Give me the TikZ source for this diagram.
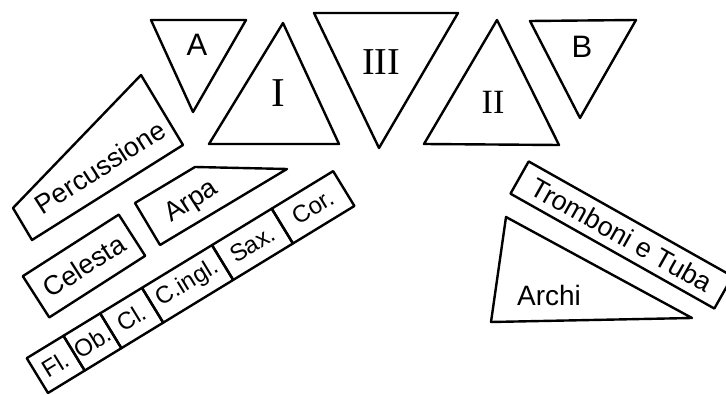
\documentclass[tikz,border=0pt]{standalone}
\usepackage{fontspec}
\setmainfont{Liberation Sans}
\newfontfamily\romanfont{Liberation Serif}
\usetikzlibrary{positioning}

\begin{document}
\begin{tikzpicture}[x=1pt, y=-1pt, line join=round,
    part/.style={draw, line width=2.4pt},
    box/.style={draw, line width=2.4pt, inner sep=0pt, outer sep=0pt},
    cell/.style={box, rotate=31.4, minimum height=40.8pt,
                 font=\fontsize{24}{28}\selectfont},
    txt/.style={inner sep=0pt, font=\fontsize{27}{32}\selectfont},
    num/.style={inner sep=0pt, font=\fontsize{38}{42}\romanfont}
]
  \useasboundingbox (0,0) rectangle (726,395);
  \clip (0,0) rectangle (726,395);

  % triangles on the stage
  \draw[part] (151,20) -- (246,20) -- (193,112) -- cycle;
  \node[txt, font=\fontsize{31}{34}\selectfont] (tA) at (197,45) {A};
  \draw[part] (283,23) -- (339,144) -- (209,144) -- cycle;
  \node[num, font=\fontsize{41}{44}\romanfont] (tI) at (278,93) {I};
  \draw[part] (314,13) -- (458,13) -- (379,148) -- cycle;
  \node[num] (tIII) at (381,62) {III};
  \draw[part] (497,20) -- (559,145) -- (424,144) -- cycle;
  \node[num, font=\fontsize{34}{38}\romanfont] (tII) at (493,102) {II};
  \draw[part] (530,21) -- (636,20) -- (580,118) -- cycle;
  \node[txt, font=\fontsize{31}{34}\selectfont] (tB) at (582,47) {B};

  % left side
  \draw[part] (13,208) -- (141,75) -- (183,145) -- (32,240) -- cycle;
  \node[txt, rotate=32.6] (perc) at (100,167) {Percussione};
  \draw[part] (135,203) -- (195,167) -- (287,169) -- (160,245) -- cycle;
  \node[txt, rotate=33] (arpa) at (192,202) {Arpa};
  \node[box, rotate=32.7, minimum width=114pt, minimum height=49pt,
        font=\fontsize{27}{32}\selectfont] (cel) at (84,266) {Celesta};

  % woodwinds
  \node[cell, minimum width=43pt, anchor=south west] (fl) at (48,393) {Fl.};
  \node[cell, minimum width=43pt, right=0pt of fl] (ob) {Ob.};
  \node[cell, minimum width=49pt, right=0pt of ob] (cl) {Cl.};
  \node[cell, minimum width=82pt, right=0pt of cl] (cingl) {C.ingl.};
  \node[cell, minimum width=70pt, right=0pt of cingl] (sax) {Sax.};
  \node[cell, minimum width=72pt, right=0pt of sax] (cor) {Cor.};

  % right side
  \node[box, rotate=-29.4, minimum width=234pt, minimum height=37pt,
        font=\fontsize{27}{32}\selectfont] (tromb) at (621.5,235) {Tromboni e Tuba};
  \draw[part] (506,217) -- (692,318) -- (491,322) -- cycle;
  \node[txt, font=\fontsize{28}{32}\selectfont] (archi) at (549,295) {Archi};
\end{tikzpicture}
\end{document}
